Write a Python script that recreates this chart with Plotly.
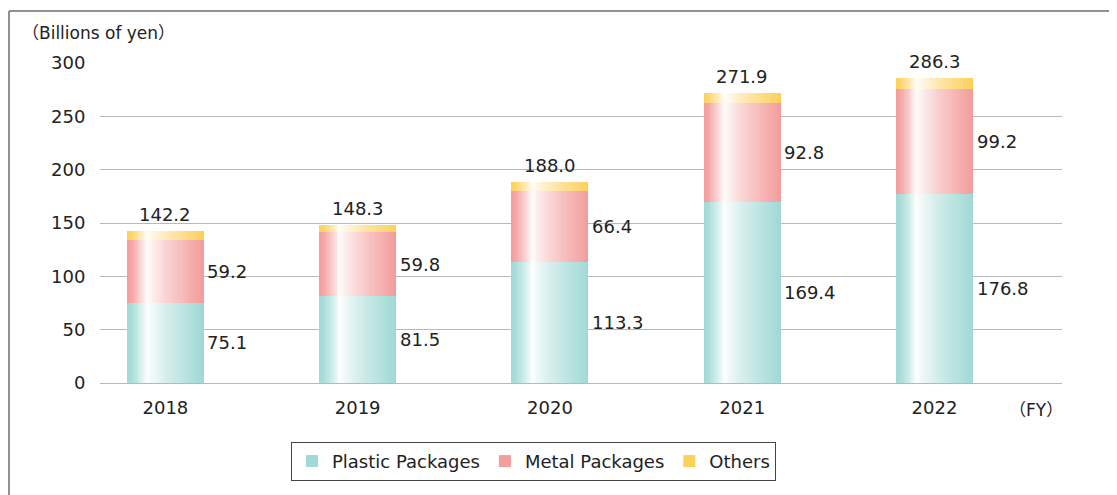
import plotly.graph_objects as go

# ---- data ----
years = ["2018", "2019", "2020", "2021", "2022"]
plastic = [75.1, 81.5, 113.3, 169.4, 176.8]
metal = [59.2, 59.8, 66.4, 92.8, 99.2]
others = [7.9, 7.0, 8.3, 9.7, 10.3]
totals = [142.2, 148.3, 188.0, 271.9, 286.3]
series_names = ["Plastic Packages", "Metal Packages", "Others"]
y_ticks = [0, 50, 100, 150, 200, 250, 300]

# ---- style ----
FONT = "DejaVu Sans, Noto Sans CJK JP, sans-serif"
TXT = "#222222"
edge_colors = [(160, 217, 213), (243, 157, 156), (253, 208, 92)]
BAR_W = 0.4
N_SLICES = 40
PEAK = 0.27


def shade(rgb, t):
    # fraction of full colour across bar width (white highlight near left)
    if t <= PEAK:
        c = 1 - (t / PEAK) ** 1.4
    else:
        c = ((t - PEAK) / (1 - PEAK)) ** 0.75
    r, g, b = [round(255 + (v - 255) * c) for v in rgb]
    return f"rgb({r},{g},{b})"


values = [plastic, metal, others]
bases = []
run = [0.0] * len(years)
for vals in values:
    bases.append(list(run))
    run = [a + b for a, b in zip(run, vals)]

fig = go.Figure()
step = BAR_W / N_SLICES
for s, (vals, base, rgb, name) in enumerate(zip(values, bases, edge_colors, series_names)):
    for i in range(N_SLICES):
        t = (i + 0.5) / N_SLICES
        last = i == N_SLICES - 1
        fig.add_trace(go.Bar(
            x=years, y=vals, base=base,
            offset=-BAR_W / 2 + i * step,
            width=step if last else step * 1.6,
            marker=dict(color=shade(rgb, t) if not last else f"rgb{rgb}", line=dict(width=0)),
            name=name, legendgroup=name, showlegend=last,
            hoverinfo="skip",
        ))

annotations = []
# segment value labels (to the right of each bar); category index positions
for vals, base in zip(values[:2], bases[:2]):
    for xi, (v, b) in enumerate(zip(vals, base)):
        annotations.append(dict(x=xi, y=b + v / 2, text=f"{v:.1f}", xref="x", yref="y",
                                xanchor="left", yanchor="middle", xshift=40, showarrow=False,
                                font=dict(family=FONT, size=18, color=TXT)))
# totals above bars
for xi, tot in enumerate(totals):
    annotations.append(dict(x=xi, y=tot, text=f"{tot:.1f}", xref="x", yref="y",
                            xanchor="center", yanchor="bottom", yshift=4, showarrow=False,
                            font=dict(family=FONT, size=18, color=TXT)))
annotations.append(dict(x=-0.083, y=1.094, xref="paper", yref="paper", text="（Billions of yen）",
                        xanchor="left", yanchor="middle", showarrow=False,
                        font=dict(family=FONT, size=17, color=TXT)))
annotations.append(dict(x=1.003, y=-0.085, xref="paper", yref="paper", text="（FY）",
                        xanchor="right", yanchor="middle", showarrow=False,
                        font=dict(family=FONT, size=17, color=TXT)))

shapes = [
    dict(type="line", xref="paper", yref="paper", x0=-0.0946, x1=1.06, y0=1.1625, y1=1.1625,
         line=dict(color="#6e6e6e", width=1.5)),
    dict(type="line", xref="paper", yref="paper", x0=-0.0946, x1=-0.0946, y0=1.1625, y1=-0.36,
         line=dict(color="#6e6e6e", width=1.5)),
]

# page body has an 8px margin: figure is sized/offset to compensate
fig.update_layout(
    width=1109, height=487,
    margin=dict(l=92, r=55, t=55, b=112),
    barmode="overlay", bargap=0,
    plot_bgcolor="white", paper_bgcolor="white",
    font=dict(family=FONT, size=18, color=TXT),
    showlegend=True,
    legend=dict(orientation="h", x=0.4506, xanchor="center", y=-0.184, yanchor="top",
                bordercolor="#444444", borderwidth=1, font=dict(size=18, color=TXT),
                traceorder="normal"),
    annotations=annotations, shapes=shapes,
    xaxis=dict(type="category", range=[-0.34, 4.663], showgrid=False, zeroline=False,
               showline=False, ticks="outside", ticklen=8, tickcolor="rgba(0,0,0,0)",
               tickfont=dict(size=18, color=TXT)),
    yaxis=dict(range=[0, 300], tickvals=y_ticks, showgrid=True, gridcolor="#b8b8b8",
               gridwidth=1, zeroline=True, zerolinecolor="#b8b8b8", zerolinewidth=1,
               showline=False, ticks="outside", ticklen=10, tickcolor="rgba(0,0,0,0)",
               tickfont=dict(size=18, color=TXT)),
)

fig.write_html("out.html")
